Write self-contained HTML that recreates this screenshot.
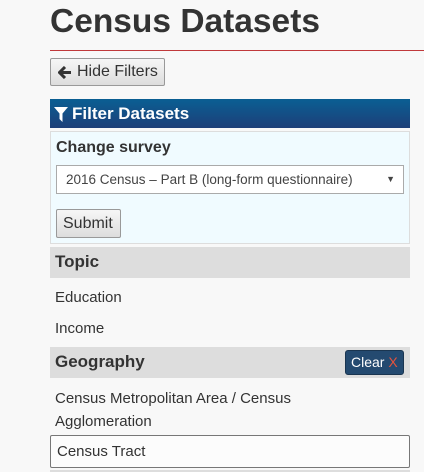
<!DOCTYPE html>
<html><head><meta charset="utf-8"><style>
body{margin:0;width:424px;height:472px;overflow:hidden;background:#f8f8f8;font-family:"Liberation Sans",Arial,sans-serif;color:#333;position:relative}
div,span,h1{position:absolute;box-sizing:border-box}
h1{margin:0;left:50px;top:3px;font-size:33.5px;font-weight:bold;color:#333;white-space:nowrap}
.btn{background:linear-gradient(#f6f6f6,#ddd);border:1px solid #999;border-radius:2px;font-size:16px;color:#333;padding:0 6px;line-height:26px;white-space:nowrap}
.bar{left:50px;width:360px;background:#ddd;font-weight:bold;font-size:17px;padding-left:5px;line-height:30px}
.item{left:55px;font-size:15px;color:#333}
</style></head><body>
<h1>Census Datasets</h1>
<div style="left:50px;top:50px;width:374px;height:1px;background:#c0393b"></div>
<div class="btn" style="left:50px;top:58px;width:115px;height:28px;padding-left:26px"><svg style="position:absolute;left:7px;top:7px" width="14" height="13" viewBox="0 0 14 13"><path d="M7 1 L1.5 6.5 L7 12 M2 6.5 H13" stroke="#333" stroke-width="3" fill="none"/></svg>Hide Filters</div>
<div style="left:50px;top:99px;width:360px;height:29px;background:linear-gradient(#0a5f93,#1d3f79);color:#fff;font-weight:bold;font-size:17px;line-height:29px;padding-left:22px"><svg style="position:absolute;left:4px;top:8px" width="14" height="15" viewBox="0 0 14 15"><path d="M0 0 H14 L8.5 6.5 V15 L5.5 12 V6.5 Z" fill="#fff"/></svg>Filter Datasets</div>
<div style="left:50px;top:131px;width:360px;height:113px;background:#f0fbff;border:1px solid #ddd"></div>
<div style="left:56px;top:139px;font-size:16px;font-weight:bold">Change survey</div>
<div style="left:56px;top:165px;width:348px;height:29px;background:#fff;border:1px solid #aaa;font-size:13.5px;line-height:27px;padding-left:9px;color:#444">2016 Census – Part B (long-form questionnaire)<span style="right:8px;top:0;font-size:9px">▼</span></div>
<div class="btn" style="left:56px;top:209px;width:65px;height:29px;line-height:27px">Submit</div>
<div class="bar" style="top:247px;height:31px">Topic</div>
<div class="item" style="top:289px">Education</div>
<div class="item" style="top:320px">Income</div>
<div class="bar" style="top:347px;height:31px">Geography</div>
<div style="left:345px;top:350px;width:59px;height:25px;background:#244a70;border:1px solid #1a3550;border-radius:3px;color:#fff;font-size:14px;line-height:23px;padding-left:5px">Clear <span style="position:static;color:#e5533d">X</span></div>
<div class="item" style="top:387px;width:300px;line-height:23px">Census Metropolitan Area / Census Agglomeration</div>
<div style="left:50px;top:435px;width:360px;height:33px;border:1px solid #777;border-radius:2px;background:#fcfcfc;font-size:15px;line-height:31px;padding-left:6px">Census Tract</div>
<div style="left:50px;top:470px;width:360px;height:2px;background:#ddd"></div>
</body></html>
